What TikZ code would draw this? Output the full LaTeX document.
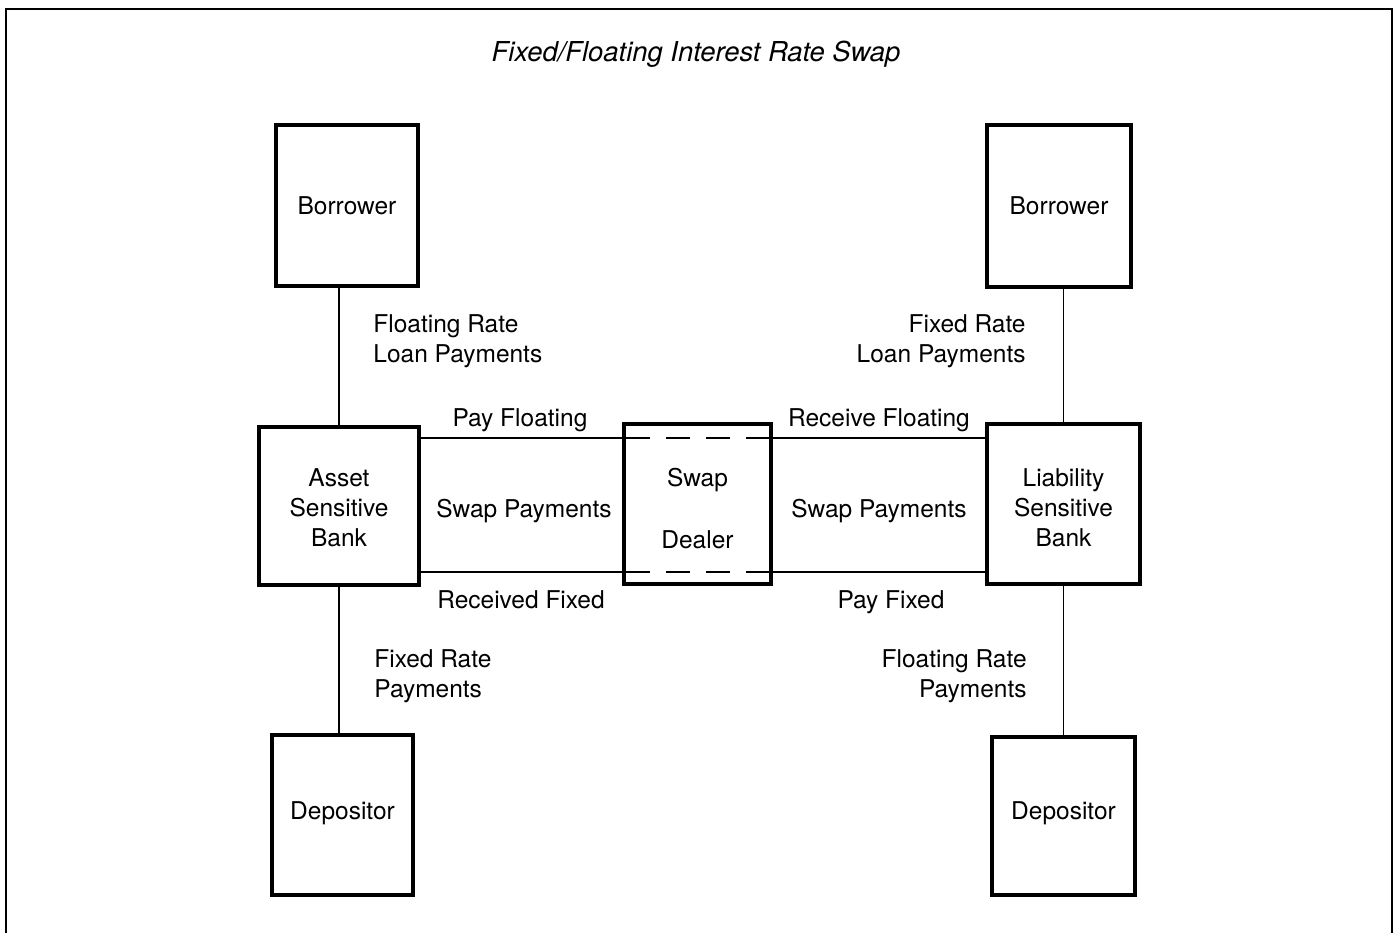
\documentclass[tikz,border=0pt]{standalone}
\usepackage{fontspec}
\setmainfont{TeX Gyre Heros}
\newcommand\dglbl{\fontsize{12.25pt}{15pt}\selectfont}
\newcommand\dgtitle{\fontsize{13.7pt}{16pt}\selectfont\itshape}
\begin{document}
\begin{tikzpicture}[x=0.5pt,y=-0.5pt,
  box/.style={draw, line width=2pt, inner sep=0pt, align=center, font=\dglbl},
  boxtext/.style={font=\dglbl, align=center, inner sep=0pt},
  wire/.style={line width=0.75pt},
  dealerdash/.style={line width=1pt, dash pattern=on 12pt off 8pt, dash phase=-2pt},
  lbl/.style={font=\dglbl, inner sep=0pt},
  frame/.style={line width=1pt}
]
\useasboundingbox (0,0) rectangle (1398,933);
\draw[frame] (6,933) -- (6,9) -- (1392,9) -- (1392,933);

\node[font=\dgtitle, inner sep=0pt, anchor=base] (title) at (696,61) {Fixed/Floating Interest Rate Swap};

\node[box, minimum width=71pt, minimum height=80.5pt] (bl) at (347,205.5) {Borrower};
\node[box, minimum width=72pt, minimum height=81pt] (br) at (1059,206) {Borrower};
\node[box, minimum width=80pt, minimum height=79pt,
  label={[boxtext, yshift=-1pt]center:Asset\\Sensitive\\Bank}] (ab) at (339,506) {};
\node[box, minimum width=73.5pt, minimum height=80pt,
  label={[boxtext, yshift=-2.5pt]center:Swap\\[16pt]Dealer}] (sd) at (697.5,504) {};
\node[box, minimum width=76.5pt, minimum height=80pt,
  label={[boxtext, yshift=-2pt]center:Liability\\Sensitive\\Bank}] (lb) at (1063.5,504) {};
\node[box, minimum width=70.5pt, minimum height=80pt,
  label={[boxtext, yshift=1pt]center:Depositor}] (dl) at (342.5,815) {};
\node[box, minimum width=71.5pt, minimum height=79pt,
  label={[boxtext, yshift=1.5pt]center:Depositor}] (dr) at (1063.5,816) {};

\draw[wire] (ab.north) -- (ab.north |- bl.south);
\draw[wire] (ab.south) -- (ab.south |- dl.north);
\draw[wire] (lb.north) -- (lb.north |- br.south);
\draw[wire] (lb.south) -- (lb.south |- dr.north);

\coordinate (ht) at (0,438);
\coordinate (hb) at (0,572);
\draw[wire] (ab.east |- ht) -- (sd.west |- ht);
\draw[dealerdash] (sd.west |- ht) -- (sd.east |- ht);
\draw[wire] (sd.east |- ht) -- (lb.west |- ht);
\draw[wire] (ab.east |- hb) -- (sd.west |- hb);
\draw[dealerdash] (sd.west |- hb) -- (sd.east |- hb);
\draw[wire] (sd.east |- hb) -- (lb.west |- hb);

\node[lbl, anchor=west, align=left] (l1) at (373,341) {Floating Rate\\Loan Payments};
\node[lbl, anchor=east, align=right] (l2) at (1026,341) {Fixed Rate\\Loan Payments};
\node[lbl, anchor=base] (l3) at (520,426) {Pay Floating};
\node[lbl, anchor=base] (l4) at (879,426) {Receive Floating};
\node[lbl, anchor=base] (l5) at (524,517) {Swap Payments};
\node[lbl, anchor=base] (l6) at (879,517) {Swap Payments};
\node[lbl, anchor=base] (l7) at (521,608) {Received Fixed};
\node[lbl, anchor=base] (l8) at (891,608) {Pay Fixed};
\node[lbl, anchor=west, align=left] (l9) at (374,676) {Fixed Rate\\Payments};
\node[lbl, anchor=east, align=right] (l10) at (1027,676.5) {Floating Rate\\Payments};
\end{tikzpicture}
\end{document}
